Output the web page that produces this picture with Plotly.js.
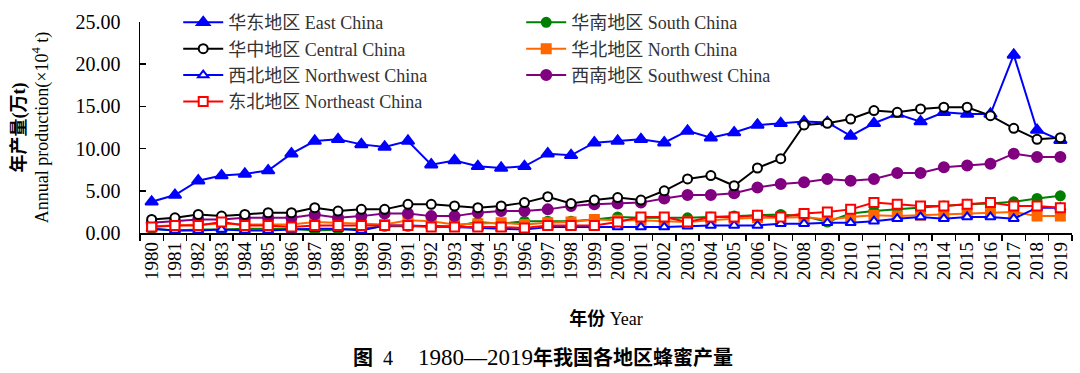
<!DOCTYPE html>
<html>
<head>
<meta charset="utf-8">
<script src="https://cdn.plot.ly/plotly-3.0.1.min.js"></script>
<style>
html,body{margin:0;padding:0;background:#fff;}
#chart{width:1080px;height:373px;}
</style>
</head>
<body>
<div id="chart"></div>
<script>
const years = ["1980","1981","1982","1983","1984","1985","1986","1987","1988","1989","1990","1991","1992","1993","1994","1995","1996","1997","1998","1999","2000","2001","2002","2003","2004","2005","2006","2007","2008","2009","2010","2011","2012","2013","2014","2015","2016","2017","2018","2019"];

const eastChina = [3.7,4.5,6.2,6.8,7.0,7.4,9.4,10.9,11.1,10.5,10.2,10.9,8.1,8.6,7.9,7.7,7.9,9.4,9.2,10.7,10.9,11.1,10.7,12.1,11.3,11.9,12.8,13.0,13.2,13.1,11.5,13.0,14.1,13.2,14.3,14.1,14.1,21.1,12.2,11.0];
const centralChina = [1.6,1.8,2.2,2.0,2.2,2.4,2.4,3.0,2.6,2.8,2.8,3.4,3.4,3.2,3.0,3.2,3.6,4.3,3.5,3.9,4.2,3.9,5.0,6.4,6.8,5.6,7.7,8.8,12.8,13.0,13.5,14.5,14.3,14.7,14.9,14.9,13.9,12.4,11.1,11.3];
const southwestChina = [1.2,1.4,1.6,1.6,1.8,1.8,1.8,2.2,1.8,2.0,2.3,2.3,2.0,2.0,2.4,2.6,2.6,2.8,3.2,3.4,3.5,3.6,4.1,4.5,4.5,4.7,5.4,5.8,6.0,6.4,6.2,6.4,7.1,7.1,7.8,8.0,8.2,9.4,9.0,9.0];
const southChina = [0.5,0.3,0.4,0.4,0.5,0.5,0.5,0.3,0.4,0.5,0.8,0.8,0.8,0.8,1.3,1.1,1.4,1.4,1.4,1.6,1.9,1.8,1.8,1.8,1.9,2.0,2.1,2.2,2.0,1.3,2.3,2.6,2.8,3.0,3.2,3.4,3.5,3.7,4.1,4.4];
const northChina = [0.8,0.9,1.0,1.1,1.0,1.0,1.0,1.3,1.2,1.1,1.0,1.5,1.4,1.0,1.1,1.2,1.0,1.2,1.3,1.6,1.5,1.5,1.4,1.3,1.5,1.7,1.8,1.8,1.9,1.6,1.9,2.1,2.0,2.1,2.2,2.3,2.4,2.5,2.0,2.0];
const northwestChina = [0.5,0.3,0.3,0.4,0.3,0.3,0.4,0.5,0.5,0.3,0.9,0.9,0.8,0.7,0.6,0.5,0.4,0.7,0.7,0.7,0.7,0.7,0.7,0.8,0.9,0.9,0.9,1.1,1.1,1.2,1.2,1.4,1.7,1.9,1.7,1.9,1.9,1.7,3.0,3.0];
const northeastChina = [0.7,0.9,0.9,1.3,0.9,0.9,0.7,0.9,0.9,0.9,0.9,0.9,0.7,0.7,0.7,0.7,0.6,0.9,0.9,0.9,1.3,1.9,1.9,1.3,1.9,1.9,2.1,1.9,2.3,2.5,2.8,3.6,3.4,3.2,3.2,3.4,3.6,3.2,3.2,3.0];

const names = {
  east: "华东地区 East China",
  central: "华中地区 Central China",
  northwest: "西北地区 Northwest China",
  northeast: "东北地区 Northeast China",
  south: "华南地区 South China",
  north: "华北地区 North China",
  southwest: "西南地区 Southwest China"
};

const serif = "Liberation Serif, Noto Sans CJK SC, serif";

function tr(y, name, color, symbol, fill, size, legend, rank) {
  return {
    x: years, y: y, name: name, type: "scatter", mode: "lines+markers",
    line: {color: color, width: 2},
    marker: {symbol: symbol, size: size, color: fill, line: {color: color, width: 2}},
    legend: legend, legendrank: rank
  };
}

const data = [
  tr(southChina, names.south, "#008000", "circle", "#008000", 9, "legend2", 1),
  tr(northChina, names.north, "#FF6600", "square", "#FF6600", 9, "legend2", 2),
  tr(northwestChina, names.northwest, "#0000FF", "triangle-up", "#FFFFFF", 9, "legend", 3),
  tr(southwestChina, names.southwest, "#800080", "circle", "#800080", 10, "legend2", 3),
  tr(eastChina, names.east, "#0000FF", "triangle-up", "#0000FF", 11, "legend", 1),
  tr(centralChina, names.central, "#000000", "circle", "#FFFFFF", 9, "legend", 2),
  tr(northeastChina, names.northeast, "#FF0000", "square", "#FFFFFF", 9, "legend", 4)
];

const legFont = {family: serif, size: 18, color: "#333"};

const layout = {
  width: 1080, height: 373,
  margin: {l: 140, r: 8, t: 22, b: 140, autoexpand: false},
  paper_bgcolor: "#fff", plot_bgcolor: "#fff",
  font: {family: serif, size: 19, color: "#000"},
  showlegend: true,
  legend: {x: 0.041, xanchor: "left", y: 1.085, yanchor: "top", bgcolor: "rgba(0,0,0,0)",
    font: legFont, tracegroupgap: 0, itemwidth: 40, traceorder: "normal"},
  legend2: {x: 0.409, xanchor: "left", y: 1.085, yanchor: "top", bgcolor: "rgba(0,0,0,0)",
    font: legFont, tracegroupgap: 0, itemwidth: 40, traceorder: "normal"},
  xaxis: {
    type: "category", range: [-0.5, 39.5], tickson: "boundaries",
    tickmode: "linear", tick0: 0, dtick: 1,
    ticks: "outside", ticklen: 6, tickwidth: 1.5, tickcolor: "#000",
    showline: true, linecolor: "#000", linewidth: 1.5, showgrid: false, zeroline: false,
    tickangle: -90, tickfont: {family: serif, size: 19, color: "#000"},
    title: {text: "<b>年份</b> Year", font: {family: serif, size: 18, color: "#000"}, standoff: 33}
  },
  yaxis: {
    range: [0, 25], dtick: 5, tickformat: ".2f",
    ticks: "inside", ticklen: 6, tickwidth: 1.5, tickcolor: "#000",
    showline: true, linecolor: "#000", linewidth: 1.5, showgrid: false, zeroline: false,
    tickfont: {family: serif, size: 20, color: "#000"}, ticklabelstandoff: 14,
    title: {text: "<b>年产量(万t)</b><br>Annual production(×10<sup>4</sup> t)", font: {family: serif, size: 18, color: "#000"}, standoff: 22}
  },
  annotations: [{
    xref: "paper", yref: "paper", x: 0.432, y: -0.588, xanchor: "center", yanchor: "middle",
    showarrow: false, text: "<b>图</b>  4     <span style=\"font-size:23px\">1980—2019</span><b>年我国各地区蜂蜜产量</b>",
    font: {family: serif, size: 20, color: "#000"}
  }]
};

Plotly.newPlot("chart", data, layout, {displayModeBar: false, staticPlot: true});
</script>
</body>
</html>
